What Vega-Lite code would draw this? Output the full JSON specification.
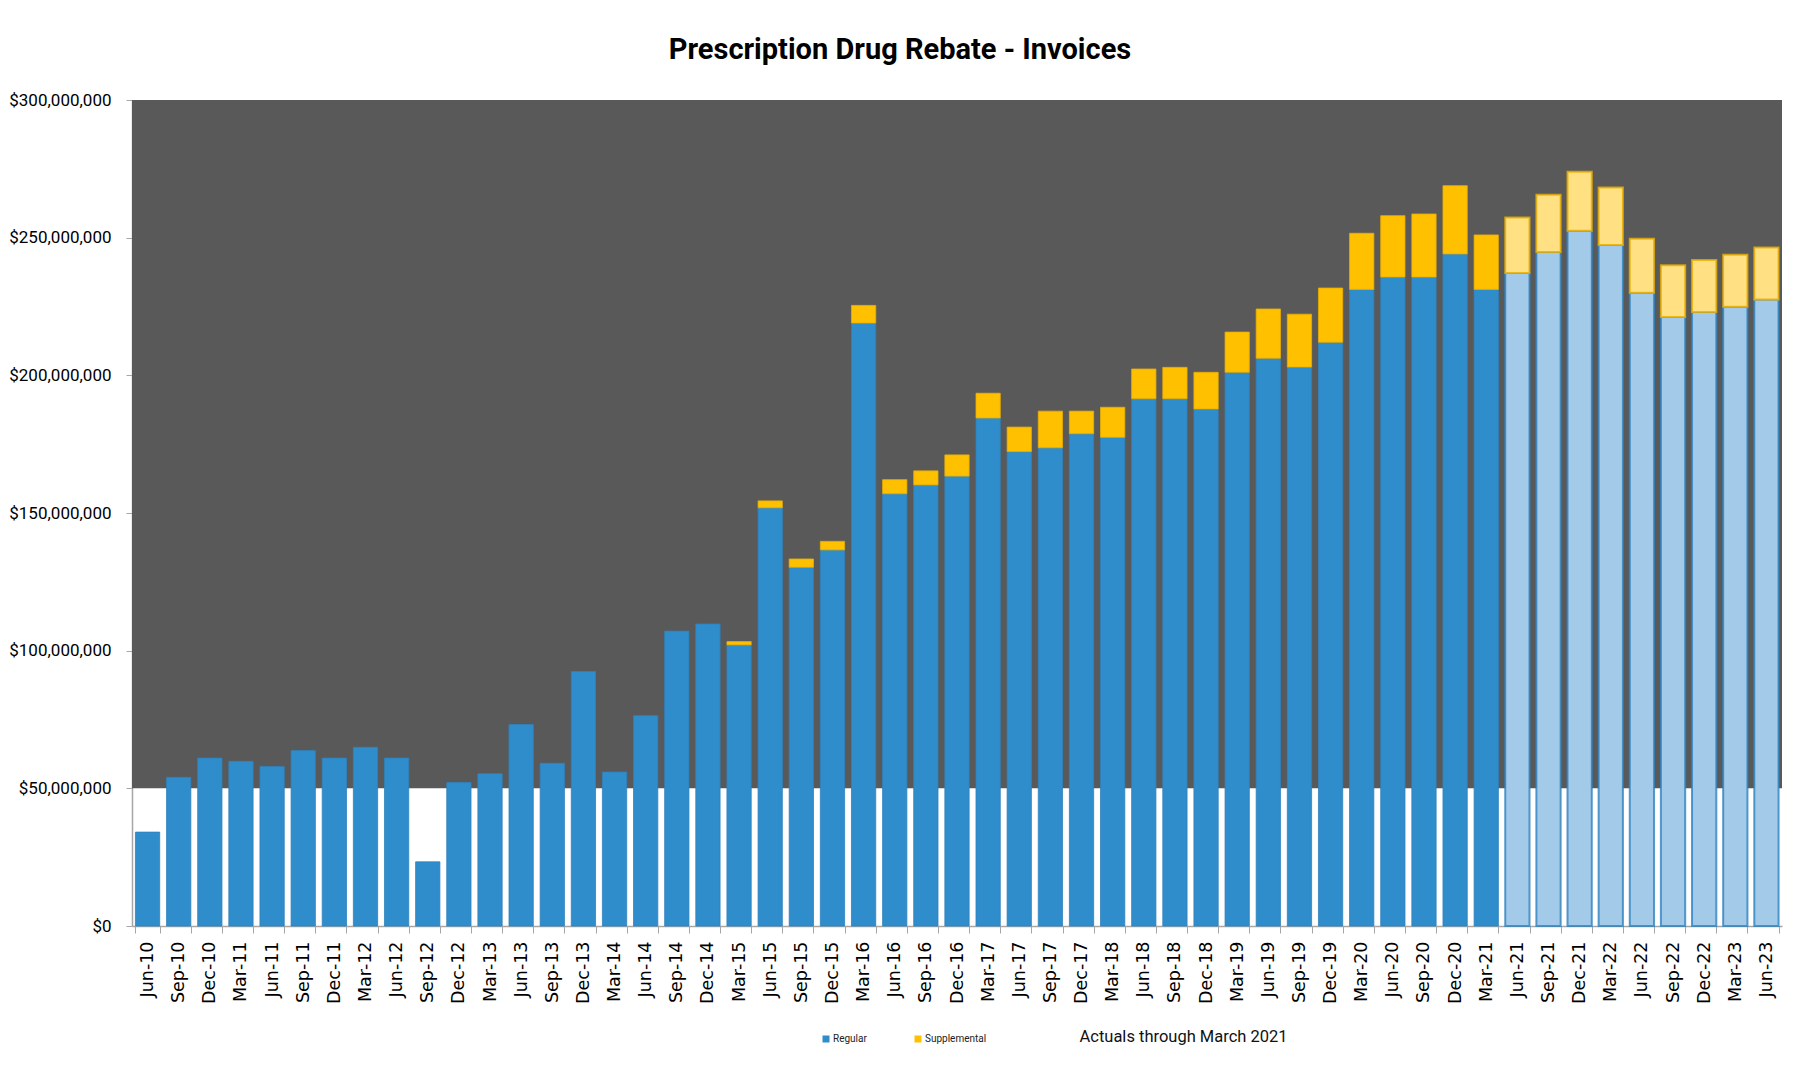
{
  "$schema": "https://vega.github.io/schema/vega-lite/v6.json",
  "width": 1650,
  "height": 826,
  "autosize": {"type": "none"},
  "padding": {"left": 132, "top": 100, "right": 18, "bottom": 145},
  "background": "white",
  "title": {
    "text": "Prescription Drug Rebate - Invoices",
    "font": "Roboto",
    "fontSize": 29,
    "fontWeight": "bold",
    "color": "#000000",
    "anchor": "middle",
    "dx": -57,
    "offset": 26
  },
  "config": {"view": {"stroke": null}, "axis": {"grid": false}},
  "datasets": {
    "band": [{"lo": 50000000, "hi": 300000000}],
    "bars": [
      {"q": "Jun-10", "series": "Regular", "kind": "Actual", "value": 34100000},
      {"q": "Sep-10", "series": "Regular", "kind": "Actual", "value": 54000000},
      {"q": "Dec-10", "series": "Regular", "kind": "Actual", "value": 61000000},
      {"q": "Mar-11", "series": "Regular", "kind": "Actual", "value": 59800000},
      {"q": "Jun-11", "series": "Regular", "kind": "Actual", "value": 57900000},
      {"q": "Sep-11", "series": "Regular", "kind": "Actual", "value": 63700000},
      {"q": "Dec-11", "series": "Regular", "kind": "Actual", "value": 61000000},
      {"q": "Mar-12", "series": "Regular", "kind": "Actual", "value": 64900000},
      {"q": "Jun-12", "series": "Regular", "kind": "Actual", "value": 61000000},
      {"q": "Sep-12", "series": "Regular", "kind": "Actual", "value": 23300000},
      {"q": "Dec-12", "series": "Regular", "kind": "Actual", "value": 52100000},
      {"q": "Mar-13", "series": "Regular", "kind": "Actual", "value": 55300000},
      {"q": "Jun-13", "series": "Regular", "kind": "Actual", "value": 73200000},
      {"q": "Sep-13", "series": "Regular", "kind": "Actual", "value": 59100000},
      {"q": "Dec-13", "series": "Regular", "kind": "Actual", "value": 92400000},
      {"q": "Mar-14", "series": "Regular", "kind": "Actual", "value": 55900000},
      {"q": "Jun-14", "series": "Regular", "kind": "Actual", "value": 76400000},
      {"q": "Sep-14", "series": "Regular", "kind": "Actual", "value": 107100000},
      {"q": "Dec-14", "series": "Regular", "kind": "Actual", "value": 109700000},
      {"q": "Mar-15", "series": "Regular", "kind": "Actual", "value": 102100000},
      {"q": "Jun-15", "series": "Regular", "kind": "Actual", "value": 151900000},
      {"q": "Sep-15", "series": "Regular", "kind": "Actual", "value": 130300000},
      {"q": "Dec-15", "series": "Regular", "kind": "Actual", "value": 136600000},
      {"q": "Mar-16", "series": "Regular", "kind": "Actual", "value": 219000000},
      {"q": "Jun-16", "series": "Regular", "kind": "Actual", "value": 157000000},
      {"q": "Sep-16", "series": "Regular", "kind": "Actual", "value": 160200000},
      {"q": "Dec-16", "series": "Regular", "kind": "Actual", "value": 163400000},
      {"q": "Mar-17", "series": "Regular", "kind": "Actual", "value": 184500000},
      {"q": "Jun-17", "series": "Regular", "kind": "Actual", "value": 172300000},
      {"q": "Sep-17", "series": "Regular", "kind": "Actual", "value": 173700000},
      {"q": "Dec-17", "series": "Regular", "kind": "Actual", "value": 178800000},
      {"q": "Mar-18", "series": "Regular", "kind": "Actual", "value": 177500000},
      {"q": "Jun-18", "series": "Regular", "kind": "Actual", "value": 191500000},
      {"q": "Sep-18", "series": "Regular", "kind": "Actual", "value": 191500000},
      {"q": "Dec-18", "series": "Regular", "kind": "Actual", "value": 187800000},
      {"q": "Mar-19", "series": "Regular", "kind": "Actual", "value": 201100000},
      {"q": "Jun-19", "series": "Regular", "kind": "Actual", "value": 206200000},
      {"q": "Sep-19", "series": "Regular", "kind": "Actual", "value": 203000000},
      {"q": "Dec-19", "series": "Regular", "kind": "Actual", "value": 212000000},
      {"q": "Mar-20", "series": "Regular", "kind": "Actual", "value": 231200000},
      {"q": "Jun-20", "series": "Regular", "kind": "Actual", "value": 235700000},
      {"q": "Sep-20", "series": "Regular", "kind": "Actual", "value": 235700000},
      {"q": "Dec-20", "series": "Regular", "kind": "Actual", "value": 244100000},
      {"q": "Mar-21", "series": "Regular", "kind": "Actual", "value": 231200000},
      {"q": "Jun-21", "series": "Regular", "kind": "Forecast", "value": 237200000},
      {"q": "Sep-21", "series": "Regular", "kind": "Forecast", "value": 244800000},
      {"q": "Dec-21", "series": "Regular", "kind": "Forecast", "value": 252500000},
      {"q": "Mar-22", "series": "Regular", "kind": "Forecast", "value": 247300000},
      {"q": "Jun-22", "series": "Regular", "kind": "Forecast", "value": 230000000},
      {"q": "Sep-22", "series": "Regular", "kind": "Forecast", "value": 221200000},
      {"q": "Dec-22", "series": "Regular", "kind": "Forecast", "value": 223000000},
      {"q": "Mar-23", "series": "Regular", "kind": "Forecast", "value": 224900000},
      {"q": "Jun-23", "series": "Regular", "kind": "Forecast", "value": 227500000},
      {"q": "Mar-15", "series": "Supplemental", "kind": "Actual", "value": 1200000},
      {"q": "Jun-15", "series": "Supplemental", "kind": "Actual", "value": 2500000},
      {"q": "Sep-15", "series": "Supplemental", "kind": "Actual", "value": 3000000},
      {"q": "Dec-15", "series": "Supplemental", "kind": "Actual", "value": 3100000},
      {"q": "Mar-16", "series": "Supplemental", "kind": "Actual", "value": 6400000},
      {"q": "Jun-16", "series": "Supplemental", "kind": "Actual", "value": 5100000},
      {"q": "Sep-16", "series": "Supplemental", "kind": "Actual", "value": 5100000},
      {"q": "Dec-16", "series": "Supplemental", "kind": "Actual", "value": 7700000},
      {"q": "Mar-17", "series": "Supplemental", "kind": "Actual", "value": 9000000},
      {"q": "Jun-17", "series": "Supplemental", "kind": "Actual", "value": 8900000},
      {"q": "Sep-17", "series": "Supplemental", "kind": "Actual", "value": 13300000},
      {"q": "Dec-17", "series": "Supplemental", "kind": "Actual", "value": 8200000},
      {"q": "Mar-18", "series": "Supplemental", "kind": "Actual", "value": 10900000},
      {"q": "Jun-18", "series": "Supplemental", "kind": "Actual", "value": 10800000},
      {"q": "Sep-18", "series": "Supplemental", "kind": "Actual", "value": 11400000},
      {"q": "Dec-18", "series": "Supplemental", "kind": "Actual", "value": 13300000},
      {"q": "Mar-19", "series": "Supplemental", "kind": "Actual", "value": 14600000},
      {"q": "Jun-19", "series": "Supplemental", "kind": "Actual", "value": 17900000},
      {"q": "Sep-19", "series": "Supplemental", "kind": "Actual", "value": 19200000},
      {"q": "Dec-19", "series": "Supplemental", "kind": "Actual", "value": 19700000},
      {"q": "Mar-20", "series": "Supplemental", "kind": "Actual", "value": 20400000},
      {"q": "Jun-20", "series": "Supplemental", "kind": "Actual", "value": 22300000},
      {"q": "Sep-20", "series": "Supplemental", "kind": "Actual", "value": 22900000},
      {"q": "Dec-20", "series": "Supplemental", "kind": "Actual", "value": 24800000},
      {"q": "Mar-21", "series": "Supplemental", "kind": "Actual", "value": 19800000},
      {"q": "Jun-21", "series": "Supplemental", "kind": "Forecast", "value": 20100000},
      {"q": "Sep-21", "series": "Supplemental", "kind": "Forecast", "value": 20800000},
      {"q": "Dec-21", "series": "Supplemental", "kind": "Forecast", "value": 21400000},
      {"q": "Mar-22", "series": "Supplemental", "kind": "Forecast", "value": 20900000},
      {"q": "Jun-22", "series": "Supplemental", "kind": "Forecast", "value": 19600000},
      {"q": "Sep-22", "series": "Supplemental", "kind": "Forecast", "value": 18800000},
      {"q": "Dec-22", "series": "Supplemental", "kind": "Forecast", "value": 18900000},
      {"q": "Mar-23", "series": "Supplemental", "kind": "Forecast", "value": 18900000},
      {"q": "Jun-23", "series": "Supplemental", "kind": "Forecast", "value": 18900000}
    ]
  },
  "layer": [
    {
      "data": {"name": "band"},
      "mark": {"type": "rect", "color": "#595959"},
      "encoding": {
        "y": {"field": "lo", "type": "quantitative", "scale": {"domain": [0, 300000000]}, "title": null},
        "y2": {"field": "hi"}
      }
    },
    {
      "data": {"name": "bars"},
      "mark": {"type": "bar", "strokeOpacity": 0.8},
      "encoding": {
        "x": {
          "field": "q",
          "type": "ordinal",
          "sort": null,
          "scale": {"paddingInner": 0.22, "paddingOuter": 0.11},
          "axis": {
            "title": "Actuals through March 2021",
            "titleX": 947,
            "titleY": 110,
            "titleAlign": "left",
            "titleBaseline": "middle",
            "titleFont": "Roboto",
            "titleFontSize": 16.5,
            "titleFontWeight": "normal",
            "titleColor": "#111111",
            "labelAngle": -90,
            "labelFont": "DejaVu Sans",
            "labelFontSize": 17.5,
            "labelColor": "#000000",
            "labelPadding": 8,
            "labelBound": false,
            "labelOverlap": false,
            "tickBand": "extent",
            "tickSize": 7,
            "tickColor": "#A6A6A6",
            "domainColor": "#A6A6A6",
            "domainWidth": 1.5
          }
        },
        "y": {
          "field": "value",
          "type": "quantitative",
          "stack": "zero",
          "scale": {"domain": [0, 300000000]},
          "title": null,
          "axis": {
            "values": [0, 50000000, 100000000, 150000000, 200000000, 250000000, 300000000],
            "format": "$,.0f",
            "labelFont": "Roboto",
            "labelFontSize": 17,
            "labelColor": "#000000",
            "labelPadding": 15,
            "tickSize": 6,
            "tickColor": "#A6A6A6",
            "domainColor": "#A6A6A6",
            "domainWidth": 1.5
          }
        },
        "order": {"field": "series", "type": "ordinal", "sort": "ascending"},
        "color": {
          "field": "series",
          "type": "nominal",
          "scale": {"domain": ["Regular", "Supplemental"], "range": ["#308DCB", "#FFC000"]},
          "condition": [
            {"test": "datum.kind === 'Forecast' && datum.series === 'Regular'", "value": "#A3CAE9"},
            {"test": "datum.kind === 'Forecast' && datum.series === 'Supplemental'", "value": "#FFE083"}
          ],
          "legend": {
            "title": null,
            "orient": "none",
            "legendX": 689,
            "legendY": 934,
            "direction": "horizontal",
            "symbolType": "square",
            "symbolSize": 49,
            "symbolStrokeWidth": 0,
            "labelFont": "Roboto",
            "labelFontSize": 10,
            "labelColor": "#222222",
            "labelOffset": 2,
            "columnPadding": 46
          }
        },
        "stroke": {
          "field": "series",
          "type": "nominal",
          "scale": {"domain": ["Regular", "Supplemental"], "range": ["#2E82BE", "#E8AE00"]},
          "legend": null
        },
        "strokeWidth": {"condition": {"test": "datum.kind === 'Forecast'", "value": 2}, "value": 1}
      }
    }
  ]
}
